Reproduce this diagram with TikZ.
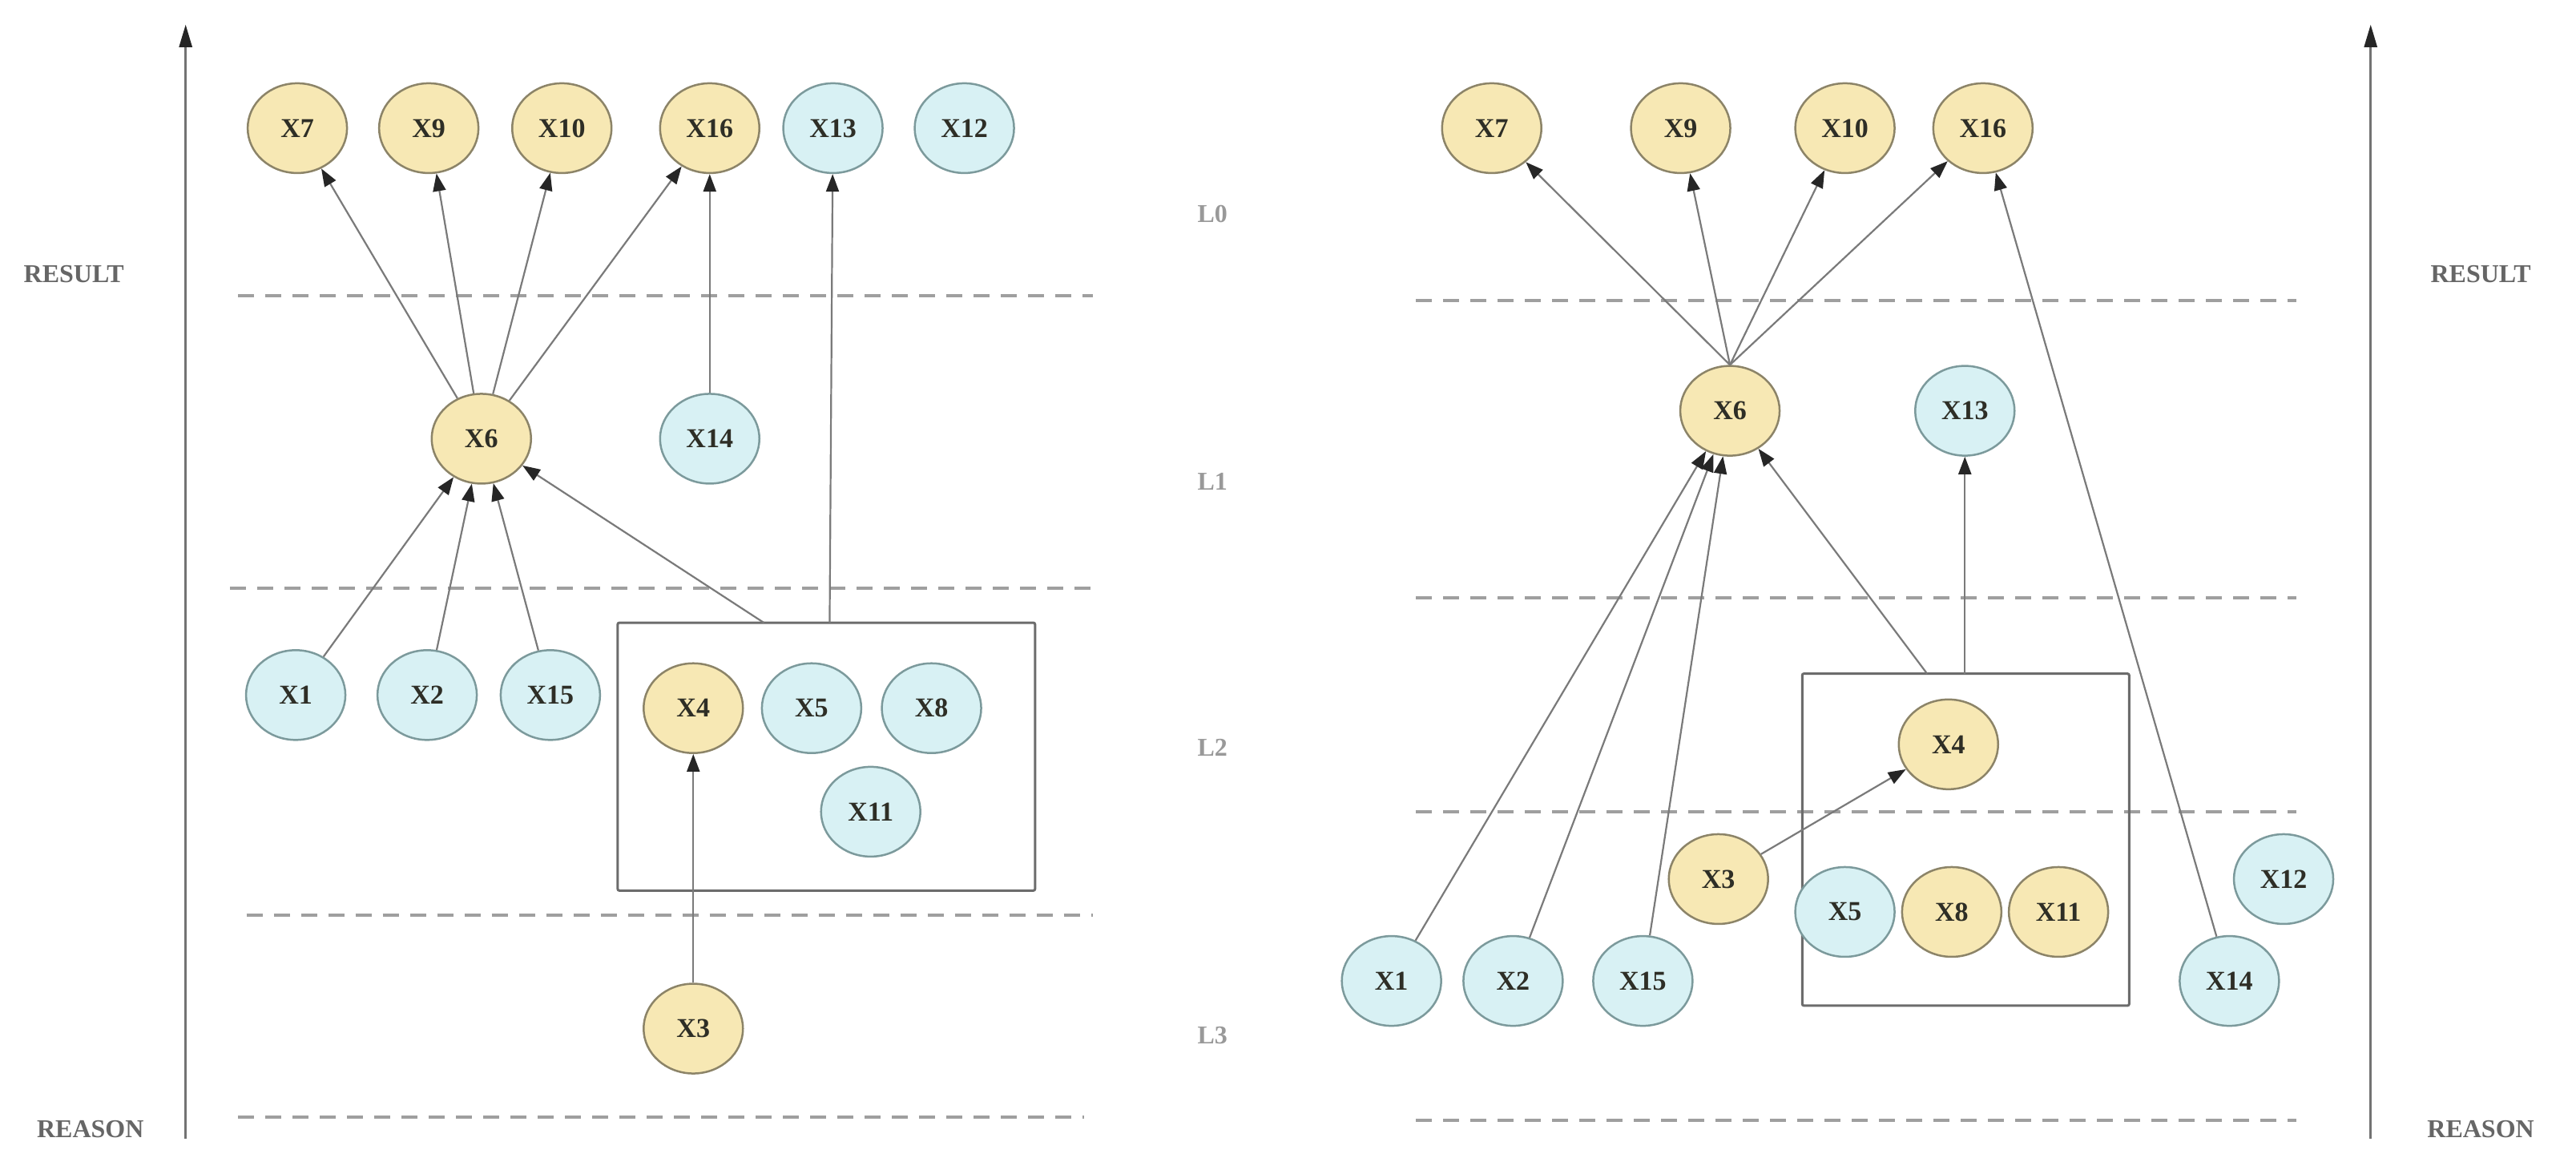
\documentclass[tikz,border=0pt]{standalone}
\usepackage{fontspec}
\setmainfont{Liberation Serif}
\usetikzlibrary{shapes.geometric,arrows.meta}
\definecolor{yfill}{HTML}{F7E8B4}
\definecolor{ydraw}{HTML}{8C8468}
\definecolor{cfill}{HTML}{D8F1F4}
\definecolor{cdraw}{HTML}{7C9A9C}
\definecolor{edgec}{HTML}{7A7A7A}
\definecolor{txt}{HTML}{2E2E26}
\tikzset{
  vnode/.style={ellipse, minimum width=124pt, minimum height=112pt, inner sep=0pt,
     line width=2.5pt, font=\fontsize{34}{38}\selectfont\bfseries, text=txt},
  ynode/.style={vnode, fill=yfill, draw=ydraw},
  cnode/.style={vnode, fill=cfill, draw=cdraw},
  edge/.style={draw=edgec, line width=2.2pt, -{Triangle[length=22pt,width=16pt,black!85]}},
  layerline/.style={draw=gray!75, line width=4pt, dash pattern=on 20pt off 14pt},
  groupbox/.style={draw=gray!85!black, line width=3pt, rounded corners=2pt},
  axis/.style={draw=gray!90!black, line width=2.5pt, -{Triangle[length=28pt,width=16pt,black!85]}},
  sidelabel/.style={font=\fontsize{32}{36}\selectfont\bfseries, text=gray!80!black},
  levellabel/.style={font=\fontsize{32}{36}\selectfont\bfseries, text=gray!80}
}
\begin{document}
\begin{tikzpicture}[x=2.0504pt, y=-2.0504pt]
\useasboundingbox (0,0) rectangle (1568,712);
\fill[white] (0,0) rectangle (1568,712);

% ---------------- layer lines ----------------
\draw[layerline] (145,180) -- (665,180);
\draw[layerline] (140,358) -- (665,358);
\draw[layerline] (150,557) -- (665,557);
\draw[layerline] (145,680) -- (660,680);
\draw[layerline] (862,183) -- (1398,183);
\draw[layerline] (862,364) -- (1398,364);
\draw[layerline] (862,494) -- (1398,494);
\draw[layerline] (862,682) -- (1398,682);

% ---------------- axes ----------------
\coordinate (la0) at (113,693);
\coordinate (la1) at (113,15);
\draw[axis] (la0) -- (la1);
\coordinate (ra0) at (1443,693);
\coordinate (ra1) at (1443,15);
\draw[axis] (ra0) -- (ra1);

\node[sidelabel] (lres) at (45,167) {RESULT};
\node[sidelabel] (lrea) at (55,687) {REASON};
\node[sidelabel] (rres) at (1510,167) {RESULT};
\node[sidelabel] (rrea) at (1510,687) {REASON};

\node[levellabel] (L0) at (738,130) {L0};
\node[levellabel] (L1) at (738,293) {L1};
\node[levellabel] (L2) at (738,455) {L2};
\node[levellabel] (L3) at (738,630) {L3};

% ---------------- left panel ----------------
\node[groupbox, minimum width=254*2.0504pt, minimum height=163*2.0504pt, inner sep=0pt] (lbox) at (503,460.5) {};

\node[ynode] (a7)  at (181,78) {X7};
\node[ynode] (a9)  at (261,78) {X9};
\node[ynode] (a10) at (342,78) {X10};
\node[ynode] (a16) at (432,78) {X16};
\node[cnode] (a13) at (507,78) {X13};
\node[cnode] (a12) at (587,78) {X12};
\node[ynode] (a6)  at (293,267) {X6};
\node[cnode] (a14) at (432,267) {X14};
\node[cnode] (a1)  at (180,423) {X1};
\node[cnode] (a2)  at (260,423) {X2};
\node[cnode] (a15) at (335,423) {X15};
\node[ynode] (a4)  at (422,431) {X4};
\node[cnode] (a5)  at (494,431) {X5};
\node[cnode] (a8)  at (567,431) {X8};
\node[cnode] (a11) at (530,494) {X11};
\node[ynode] (a3)  at (422,626) {X3};

\coordinate (lb1) at (465,379);
\coordinate (lb2) at (505,379);

\draw[edge] (a6) -- (a7);
\draw[edge] (a6) -- (a9);
\draw[edge] (a6) -- (a10);
\draw[edge] (a6) -- (a16);
\draw[edge] (a14) -- (a16);
\draw[edge] (lb2) -- (a13);
\draw[edge] (a1) -- (a6);
\draw[edge] (a2) -- (a6);
\draw[edge] (a15) -- (a6);
\draw[edge] (lb1) -- (a6);
\draw[edge] (a3) -- (a4);

% ---------------- right panel ----------------
\node[groupbox, minimum width=199*2.0504pt, minimum height=202*2.0504pt, inner sep=0pt] (rbox) at (1196.5,511) {};

\node[ynode] (b7)  at (908,78) {X7};
\node[ynode] (b9)  at (1023,78) {X9};
\node[ynode] (b10) at (1123,78) {X10};
\node[ynode] (b16) at (1207,78) {X16};
\node[ynode] (b6)  at (1053,250) {X6};
\node[cnode] (b13) at (1196,250) {X13};
\node[ynode] (b4)  at (1186,453) {X4};
\node[cnode] (b5)  at (1123,555) {X5};
\node[ynode] (b8)  at (1188,555) {X8};
\node[ynode] (b11) at (1253,555) {X11};
\node[ynode] (b3)  at (1046,535) {X3};
\node[cnode] (b12) at (1390,535) {X12};
\node[cnode] (b1)  at (847,597) {X1};
\node[cnode] (b2)  at (921,597) {X2};
\node[cnode] (b15) at (1000,597) {X15};
\node[cnode] (b14) at (1357,597) {X14};

\coordinate (rb1) at (1173,410);
\coordinate (rb2) at (1196,410);

\draw[edge] (b6.north) -- (b7);
\draw[edge] (b6.north) -- (b9);
\draw[edge] (b6.north) -- (b10);
\draw[edge] (b6.north) -- (b16);
\draw[edge] (b14) -- (b16);
\draw[edge] (b1) -- (b6);
\draw[edge] (b2) -- (b6);
\draw[edge] (b15) -- (b6);
\draw[edge] (rb1) -- (b6);
\draw[edge] (rb2) -- (b13);
\draw[edge] (b3) -- (b4);
\end{tikzpicture}
\end{document}
